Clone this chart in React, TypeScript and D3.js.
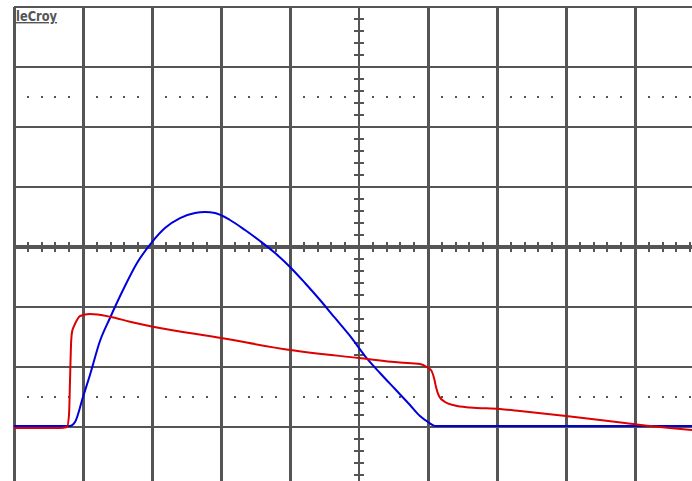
import React from 'react';
import * as d3 from 'd3';

// screen is 10 x 8 divisions, values below are in divisions (time, volts)
const blueTime = [0, 0.5, 0.812, 0.884, 1.0, 1.101, 1.246, 1.391, 1.580, 1.783, 2.0, 2.188, 2.406, 2.623, 2.768, 2.913, 3.13, 3.348, 3.565, 3.783, 4.0, 4.217, 4.435, 4.652, 4.87, 5.087, 5.304, 5.522, 5.739, 5.884, 6.0, 6.101, 6.3, 7.0, 8.5, 9.826];
const blueVolts = [-2.983, -2.983, -2.983, -2.917, -2.5, -2.133, -1.567, -1.183, -0.717, -0.267, 0.083, 0.317, 0.483, 0.567, 0.583, 0.567, 0.45, 0.283, 0.1, -0.1, -0.333, -0.6, -0.883, -1.183, -1.483, -1.817, -2.1, -2.367, -2.633, -2.817, -2.917, -2.983, -2.983, -2.983, -2.983, -2.983];

const redTime = [0, 0.667, 0.768, 0.797, 0.812, 0.826, 0.841, 0.87, 0.913, 0.957, 1.101, 1.391, 1.681, 2.014, 3.0, 4.0, 5.0, 5.594, 5.884, 5.971, 6.043, 6.087, 6.116, 6.159, 6.246, 6.391, 6.609, 7.043, 7.333, 8.0, 8.493, 8.855, 9.217, 9.507, 9.826];
const redVolts = [-3.017, -3.017, -3.0, -2.8, -2.217, -1.633, -1.417, -1.317, -1.217, -1.15, -1.117, -1.162, -1.245, -1.328, -1.517, -1.717, -1.85, -1.925, -1.95, -1.992, -2.05, -2.183, -2.333, -2.483, -2.583, -2.642, -2.675, -2.7, -2.733, -2.817, -2.883, -2.933, -2.983, -3.017, -3.05];

const gridX = d3.range(0, 11);
const gridY = d3.range(-4, 5);
const dotRows = [2.5, -2.5];

const W = 692;
const H = 481;
const GRID = '#555555';

export default function App() {
  const x = d3.scaleLinear().domain([0, 10]).range([14, 704]);
  const y = d3.scaleLinear().domain([-4, 4]).range([487, 7]);

  const pts = (ts: number[], vs: number[]) => ts.map((t, i) => [t, vs[i]] as [number, number]);

  const blue = d3.line<[number, number]>()
    .x(d => x(d[0])).y(d => y(d[1]))
    .curve(d3.curveMonotoneX)(pts(blueTime, blueVolts));
  const red = d3.line<[number, number]>()
    .x(d => x(d[0])).y(d => y(d[1]))
    .curve(d3.curveMonotoneX)(pts(redTime, redVolts));

  const minorX = d3.range(0, 51).map(k => k / 5);
  const minorY = d3.range(-20, 21).map(k => k / 5);

  return (
    <svg width={W} height={H} style={{ position: 'absolute', left: 0, top: 0, background: '#fff' }}>
      <g shapeRendering="crispEdges">
        {gridY.map(v => (
          <line key={'h' + v} x1={x(0)} x2={W} y1={y(v)} y2={y(v)} stroke={GRID} strokeWidth={2} />
        ))}
        {gridX.map(t => (
          <line key={'v' + t} x1={x(t)} x2={x(t)} y1={y(4)} y2={H} stroke={GRID} strokeWidth={t === 5 ? 2 : 3} />
        ))}
        {/* centre axes with minor ticks */}
        <line x1={x(0)} x2={W} y1={y(0)} y2={y(0)} stroke={GRID} strokeWidth={4} />
        {minorX.map(t => (
          <line key={'tx' + t} x1={x(t)} x2={x(t)} y1={y(0) - 5} y2={y(0) + 5} stroke={GRID} strokeWidth={2} />
        ))}
        {minorY.map(v => (
          <line key={'ty' + v} x1={x(5) - 5} x2={x(5) + 5} y1={y(v)} y2={y(v)} stroke={GRID} strokeWidth={2} />
        ))}
        {dotRows.map(v =>
          minorX.filter((t, k) => k % 5 !== 0).map(t => (
            <rect key={'d' + v + '_' + t} x={x(t) - 1} y={y(v) - 1} width={2} height={2} fill={GRID} />
          ))
        )}
      </g>
      <text x={16} y={21} fill={GRID} fontFamily="DejaVu Sans Condensed, DejaVu Sans" fontWeight="bold"
        fontSize={14} textDecoration="underline" textLength={41} lengthAdjust="spacingAndGlyphs">leCroy</text>
      <path d={blue || ''} fill="none" stroke="#0000dd" strokeWidth={2} />
      <path d={red || ''} fill="none" stroke="#dd0000" strokeWidth={2} />
    </svg>
  );
}
